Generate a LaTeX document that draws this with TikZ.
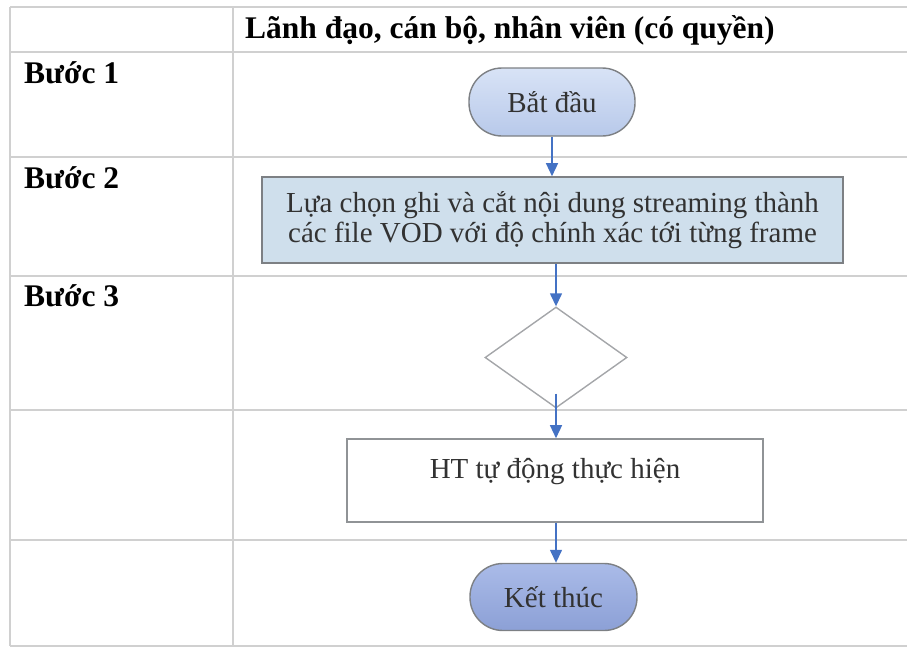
\documentclass[tikz,border=0pt]{standalone}
\usepackage{fontspec}
\setmainfont{Liberation Serif}
\usetikzlibrary{arrows.meta, positioning, shapes.geometric}

\definecolor{gridgray}{RGB}{208,208,208}
\definecolor{boxgray}{RGB}{125,128,132}
\definecolor{flowblue}{RGB}{68,114,196}
\definecolor{procfill}{RGB}{207,223,236}
\definecolor{txtgray}{RGB}{50,50,50}
\definecolor{starttop}{RGB}{216,227,246}
\definecolor{startbot}{RGB}{184,201,234}
\definecolor{endtop}{RGB}{170,187,232}
\definecolor{endbot}{RGB}{140,160,214}

\begin{document}
\begin{tikzpicture}[x=1pt, y=1pt,
    grid/.style={draw=gridgray, line width=1.6pt},
    headtxt/.style={font=\fontsize{31.5}{36}\selectfont\bfseries, inner sep=0pt},
    steplbl/.style={font=\fontsize{31.5}{36}\selectfont\bfseries, inner sep=0pt, anchor=base west},
    bodytxt/.style={font=\fontsize{29}{30}\selectfont, text=txtgray},
    pill/.style={bodytxt, draw=boxgray, line width=1.4pt, rectangle,
        rounded corners=33pt, minimum width=166pt, minimum height=68pt},
    procbox/.style={bodytxt, draw=boxgray, line width=1.6pt, align=center},
    decision/.style={diamond, draw=boxgray!70, line width=1.4pt, inner sep=0pt},
    flow/.style={draw=flowblue, line width=1.4pt,
        -{Triangle[length=13pt, width=12pt]}}]

    \useasboundingbox (0,0) rectangle (907,-648);

    % ============================================================
    % TABLE GRID
    % ============================================================
    \foreach \y in {7,52,157,276,410,540,646}
        \draw[grid] (10,-\y) -- (907,-\y);
    \draw[grid] (10,-7) -- (10,-646);
    \draw[grid] (233,-7) -- (233,-646);

    % ============================================================
    % HEADER AND STEP LABELS
    % ============================================================
    \node[headtxt, anchor=base west] (head) at (245,-38)
        {Lãnh đạo, cán bộ, nhân viên (có quyền)};
    \node[steplbl] (buoc1) at (24,-83) {Bước 1};
    \node[steplbl] (buoc2) at (24,-188) {Bước 2};
    \node[steplbl] (buoc3) at (24,-306) {Bước 3};

    % ============================================================
    % FLOW NODES
    % ============================================================
    \node[pill, top color=starttop, bottom color=startbot] (start)
        at (552,-102) {Bắt đầu};
    \node[procbox, fill=procfill, minimum width=581pt, minimum height=86pt]
        (proc) at (552.5,-220)
        {Lựa chọn ghi và cắt nội dung streaming thành\\
         các file VOD với độ chính xác tới từng frame};
    \node[decision, minimum width=142pt, minimum height=101pt] (dec)
        at (556,-357.5) {};
    \node[procbox, fill=white, draw=boxgray!85, minimum width=416pt,
        minimum height=83pt] (ht) at (555,-480.5)
        {HT tự động thực hiện\\[-6pt]\mbox{}};
    \node[pill, top color=endtop, bottom color=endbot,
        minimum width=167pt, minimum height=67pt] (end)
        at (553.5,-597) {Kết thúc};

    % ============================================================
    % CONNECTORS
    % ============================================================
    \draw[flow] (start) -- (start |- proc.north);
    \draw[flow] (proc.south -| dec) -- (dec.north);
    \draw[flow] ([yshift=15pt]dec.south) -- (ht.north -| dec);
    \draw[flow] (ht.south -| dec) -- (dec |- end.north);

\end{tikzpicture}
\end{document}
